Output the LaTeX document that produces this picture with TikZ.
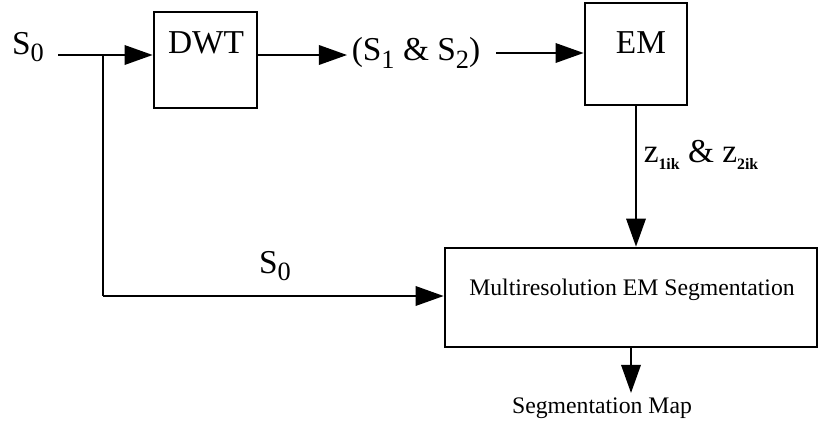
\documentclass[tikz,border=0pt]{standalone}
\usepackage{fontspec}
\setmainfont{Liberation Serif}
\usetikzlibrary{arrows.meta,positioning}
\newcommand{\lowsub}[1]{\raisebox{-0.5ex}{\fontsize{15}{15}\selectfont #1}}
\newcommand{\tinysub}[1]{\raisebox{-0.5ex}{\fontsize{9}{9}\selectfont\bfseries #1}}

\begin{document}
\begin{tikzpicture}[x=0.02cm, y=-0.02cm, line width=1.4pt,
  block/.style={draw, line width=1.5pt, inner sep=0pt},
  flow/.style={-{Triangle[length=16pt, width=11pt]}},
  biglabel/.style={font=\fontsize{19}{21}\selectfont, inner sep=0pt},
  smalllabel/.style={font=\fontsize{13.5}{15}\selectfont, inner sep=0pt}]
  \useasboundingbox (0,0) rectangle (818,423);

  % Blocks
  \node[block, minimum width=2.06cm, minimum height=1.92cm] (dwt) at (205.5,60) {};
  \node[block, minimum width=2.04cm, minimum height=2.04cm] (em) at (636,54) {};
  \node[block, minimum width=7.44cm, minimum height=1.98cm] (mres) at (631,297.5) {};
  \node[biglabel] (dwtlab) at (206,43) {DWT};
  \node[biglabel] (emlab) at (641,43) {EM};
  \node[smalllabel] (mreslab) at (632,290) {Multiresolution EM Segmentation};

  % Signals
  \node[biglabel] (s0) at (28,47) {S\lowsub{0}};
  \node[biglabel] (s12) at (416,53) {(S\lowsub{1} \& S\lowsub{2})};
  \node[biglabel] (s0low) at (275,266) {S\lowsub{0}};
  \node[biglabel] (zlab) at (701,155) {z\tinysub{1ik} \& z\tinysub{2ik}};
  \node[smalllabel] (segmap) at (602,408) {Segmentation Map};

  \coordinate (s0start) at (58,55);
  \coordinate (split) at (103,55);
  \coordinate (corner) at (103,296);
  \coordinate (mapend) at (631,393);

  % Connectors
  \draw[flow] (s0start) -- (dwt.west |- s0start);
  \draw (split) -- (corner);
  \draw[flow] (corner) -- (mres.west |- corner);
  \draw[flow] (dwt.east |- s0start) -- ([xshift=-2pt]s12.west |- s0start);
  \draw[flow] ([xshift=0.3cm]s12.east) -- (em.west |- s12.east);
  \draw[flow] (em.south) -- (mres.north -| em.south);
  \draw[flow] (mres.south) -- (mapend);

\end{tikzpicture}
\end{document}
